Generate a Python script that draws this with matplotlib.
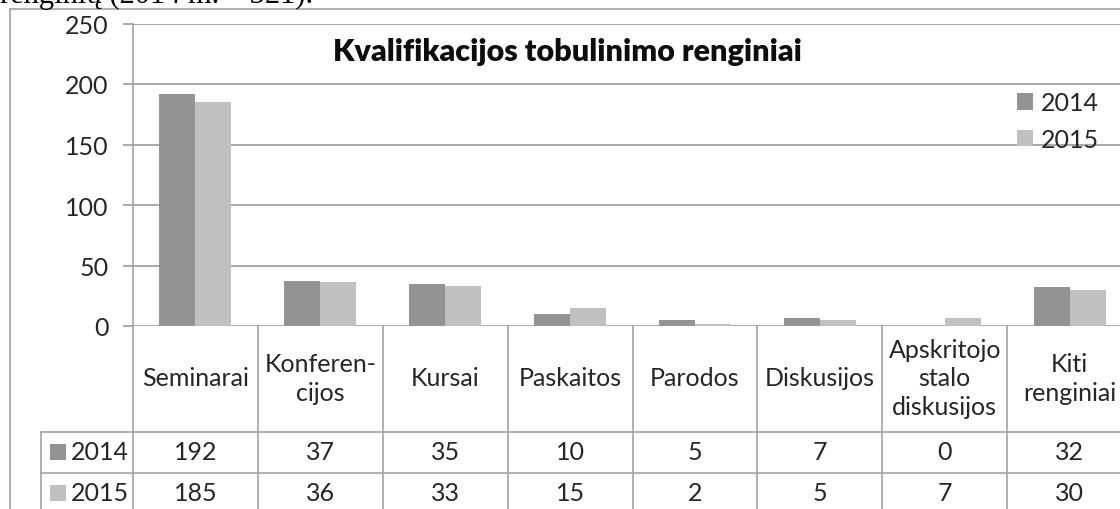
import matplotlib
matplotlib.use("Agg")
import matplotlib.pyplot as plt
import matplotlib.transforms as mtransforms
from matplotlib.patches import Rectangle

# ---- data ----
categories = ["Seminarai", "Konferen-\ncijos", "Kursai", "Paskaitos", "Parodos",
              "Diskusijos", "Apskritojo\nstalo\ndiskusijos", "Kiti\nrenginiai"]
series_names = ["2014", "2015"]
values_2014 = [192, 37, 35, 10, 5, 7, 0, 32]
values_2015 = [185, 36, 33, 15, 2, 5, 7, 30]
y_ticks = [0, 50, 100, 150, 200, 250]
title = "Kvalifikacijos tobulinimo renginiai"
doc_text = "renginių (2014 m. – 321)."

# ---- style ----
W, H = 1120, 510
FONT = "Lato"
FS = 18
TXT = "#262626"
GRID = "#9a9a9a"
LINE = "#a3a3a3"
C14 = "#939393"
C15 = "#c0c0c0"

fig = plt.figure(figsize=(W / 100, H / 100), dpi=100)
fig.patch.set_facecolor("white")

# overlay axes in pixel coordinates (for frame and table lines)
ov = fig.add_axes([0, 0, 1, 1], zorder=0)
ov.set_xlim(0, W)
ov.set_ylim(H, 0)
ov.axis("off")

# main plot axes
ax_left, ax_right, ax_top, ax_bot = 133, 1132, 24.5, 327
ax = fig.add_axes([ax_left / W, 1 - ax_bot / H, (ax_right - ax_left) / W,
                   (ax_bot - ax_top) / H], zorder=1)
ax.patch.set_alpha(0)

n = len(categories)
x = list(range(n))
bw = 0.288
ax.bar([i - bw / 2 for i in x], values_2014, width=bw, color=C14, label=series_names[0], zorder=3)
ax.bar([i + bw / 2 for i in x], values_2015, width=bw, color=C15, label=series_names[1], zorder=3)

ax.set_xlim(-0.5, n - 0.5)
ax.set_ylim(0, 250)
ax.set_yticks(y_ticks)
ax.set_xticks([])
ax.yaxis.grid(True, color=GRID, linewidth=1.2, zorder=0)
ax.set_axisbelow(True)
for s in ["top", "right", "bottom"]:
    ax.spines[s].set_visible(False)
ax.spines["left"].set_color(LINE)
ax.spines["left"].set_linewidth(1.2)
ax.tick_params(axis="y", direction="out", length=7.2, width=1.2, color=GRID,
               pad=10.5, labelsize=FS, labelcolor=TXT)
for lab in ax.get_yticklabels():
    lab.set_fontfamily(FONT)

# title
fig.text(567 / W, 1 - 52 / H, title, ha="center", va="center", fontsize=22,
         fontweight="heavy", family=FONT, color="#0d0d0d")

# legend
leg = ax.legend(loc="center left", bbox_to_anchor=(1017 / W, 1 - 122 / H),
                bbox_transform=fig.transFigure, frameon=False,
                prop={"family": FONT, "size": FS}, handlelength=0.64,
                handleheight=0.64, handletextpad=0.3, labelspacing=0.55,
                borderpad=0, borderaxespad=0)
for t in leg.get_texts():
    t.set_color(TXT)

# outer chart frame
ov.plot([10, 10], [9.5, H + 5], color=LINE, lw=1.2, clip_on=False)
ov.plot([10, W + 5], [9.5, 9.5], color=LINE, lw=1.2, clip_on=False)

# data table (x from data axis, y in pixels)
bt = mtransforms.blended_transform_factory(ax.transData, ov.transData)
row_cat = (327, 433)
row_a = (433, 474)
row_b = (474, 515)
ov.plot([ax_left, ax_left], [327, H + 5], color=LINE, lw=1.2, clip_on=False)
for i in range(1, n + 1):
    ov.plot([i - 0.5, i - 0.5], [327, H + 5], color=LINE, lw=1.2,
            transform=bt, clip_on=False)
ov.plot([41, 41], [433, H + 5], color=LINE, lw=1.2, clip_on=False)
for yy in (433, 474):
    ov.plot([41, W + 5], [yy, yy], color=LINE, lw=1.2, clip_on=False)

# category labels
for i, c in enumerate(categories):
    ov.text(i, sum(row_cat) / 2 - 1, c, transform=bt, ha="center", va="center",
            multialignment="center", fontsize=FS, family=FONT, color=TXT,
            linespacing=1.27)
# values
for row, vals in ((row_a, values_2014), (row_b, values_2015)):
    yc = (row[0] + row[1]) / 2 - 1
    for i, v in enumerate(vals):
        ov.text(i, yc, str(v), transform=bt, ha="center", va="center",
                fontsize=FS, family=FONT, color=TXT)
# row headers
for row, name, col in ((row_a, series_names[0], C14), (row_b, series_names[1], C15)):
    yc = (row[0] + row[1]) / 2 - 1
    ov.add_patch(Rectangle((50, yc - 8), 16, 16, color=col, lw=0))
    ov.text(71, yc, name, ha="left", va="center", fontsize=FS, family=FONT, color=TXT)

# cropped document text above the chart (cut off at the top, as in the reference)
fig.text(313 / W, 1 - 3 / H, doc_text, ha="right", va="baseline",
         fontsize=22, family="Liberation Serif", color="#000000")

fig.savefig("out.png", dpi=100)
